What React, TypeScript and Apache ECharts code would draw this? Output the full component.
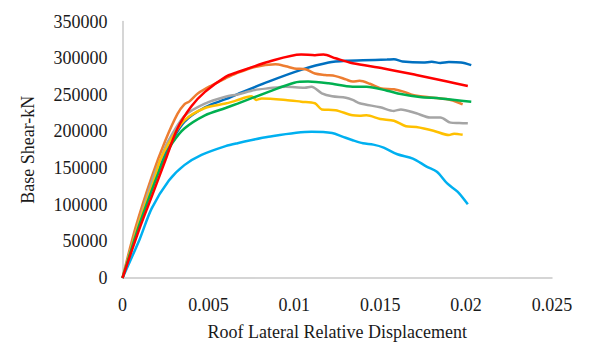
import React, { useEffect, useRef } from "react";
import * as echarts from "echarts";

const xTicks = [0, 0.005, 0.01, 0.015, 0.02, 0.025];
const yTicks = [0, 50000, 100000, 150000, 200000, 250000, 300000, 350000];

const blueData = [[0,0],[0.001,76000],[0.0019,138000],[0.0023,161000],[0.0028,184000],[0.0036,213000],[0.0048,233000],[0.006,244000],[0.0067,251000],[0.0085,268000],[0.0104,284000],[0.012,294000],[0.013,296500],[0.014,297000],[0.0154,298000],[0.0158,298500],[0.0163,295500],[0.0175,294000],[0.018,295000],[0.0185,293500],[0.019,294700],[0.0197,294000],[0.0203,290500]];
const orangeData = [[0,0],[0.00075,68000],[0.0017,138000],[0.0025,188000],[0.0032,224000],[0.0036,237000],[0.0039,241000],[0.0044,252000],[0.0052,263000],[0.006,272500],[0.0066,279000],[0.0077,288000],[0.0089,291500],[0.0095,289000],[0.01,286000],[0.0107,284500],[0.0112,279000],[0.0118,277000],[0.0124,275500],[0.013,271000],[0.0134,268000],[0.0138,269000],[0.0144,265000],[0.015,259000],[0.0158,257500],[0.0164,254000],[0.0169,249700],[0.0181,246000],[0.0191,243000],[0.0198,237000]];
const grayData = [[0,0],[0.001,80000],[0.0018,138000],[0.0022,161000],[0.0026,184000],[0.0036,221000],[0.0048,238000],[0.006,247400],[0.0067,250500],[0.0077,256500],[0.0085,258800],[0.0095,261000],[0.0106,259700],[0.011,261000],[0.0116,252000],[0.0122,248000],[0.013,246000],[0.0134,243000],[0.0138,238400],[0.015,233000],[0.0158,228000],[0.0162,230000],[0.0171,224700],[0.0179,219000],[0.0185,219000],[0.0191,212000],[0.0196,211500],[0.0201,211000]];
const yellowData = [[0,0],[0.001,78000],[0.0019,138000],[0.0022,161000],[0.0027,184000],[0.0036,215000],[0.0048,232000],[0.006,238000],[0.0066,242000],[0.0075,248000],[0.0078,243000],[0.0081,245000],[0.0095,243000],[0.0104,240600],[0.0112,238400],[0.0116,230000],[0.0124,229000],[0.0134,222000],[0.0138,221500],[0.0142,222000],[0.015,217000],[0.0158,214600],[0.0165,207000],[0.0171,206000],[0.0181,201000],[0.019,195000],[0.0193,197000],[0.0198,195500]];
const cyanData = [[0,0],[0.001,53000],[0.0017,95000],[0.0027,133000],[0.0036,154000],[0.0046,168000],[0.006,180000],[0.0067,184000],[0.0085,192800],[0.011,199600],[0.0122,198000],[0.0128,193000],[0.0134,188000],[0.014,183800],[0.0146,182000],[0.0152,178000],[0.016,168800],[0.0169,163000],[0.0177,152000],[0.0183,145000],[0.0189,129000],[0.0195,117800],[0.0201,100500]];
const greenData = [[0,0],[0.001,74000],[0.002,138000],[0.0024,161000],[0.0029,184000],[0.0036,204000],[0.0048,222000],[0.006,232000],[0.0067,238000],[0.0085,254000],[0.01,266500],[0.0108,268000],[0.012,265700],[0.0134,261000],[0.0142,261000],[0.0154,255600],[0.0162,251000],[0.0173,247000],[0.0185,245000],[0.0203,240600]];
const redData = [[0,0],[0.001,68000],[0.0017,111000],[0.0025,161000],[0.0032,204000],[0.004,234000],[0.0048,254000],[0.006,274500],[0.0066,280000],[0.0085,295000],[0.0104,305000],[0.0112,304000],[0.0117,305000],[0.0124,299800],[0.0134,293000],[0.0152,286000],[0.0171,277000],[0.0189,268000],[0.0201,262000]];

const seriesList = [
  { name: "S1", color: "#0070C0", data: blueData },
  { name: "S2", color: "#ED7D31", data: orangeData },
  { name: "S3", color: "#A5A5A5", data: grayData },
  { name: "S4", color: "#FFC000", data: yellowData },
  { name: "S5", color: "#00B0F0", data: cyanData },
  { name: "S6", color: "#00B050", data: greenData },
  { name: "S7", color: "#FF0000", data: redData },
];

const FONT = "Liberation Serif";

export default function App() {
  const ref = useRef<HTMLDivElement>(null);
  useEffect(() => {
    if (!ref.current) return;
    const chart = echarts.init(ref.current, null, { renderer: "svg" });
    chart.setOption({
      animation: false,
      textStyle: { fontFamily: FONT },
      grid: { left: 122.5, right: 40, top: 21.5, bottom: 64, containLabel: false, outerBoundsMode: "none" },
      xAxis: {
        type: "value",
        min: xTicks[0],
        max: xTicks[xTicks.length - 1],
        interval: 0.005,
        name: "Roof Lateral Relative Displacement",
        nameLocation: "middle",
        nameGap: 45,
        nameTextStyle: { fontFamily: FONT, fontSize: 18, color: "#1a1a1a" },
        axisLine: { show: true, lineStyle: { color: "#c8c8c8", width: 1.5 } },
        axisTick: { show: false },
        splitLine: { show: false },
        axisLabel: { fontFamily: FONT, fontSize: 18, color: "#1a1a1a", margin: 18, formatter: (v: number) => String(v) },
      },
      yAxis: {
        type: "value",
        min: yTicks[0],
        max: yTicks[yTicks.length - 1],
        interval: 50000,
        name: "Base Shear-kN",
        nameLocation: "middle",
        nameGap: 86,
        nameTextStyle: { fontFamily: FONT, fontSize: 18, color: "#1a1a1a" },
        axisLine: { show: true, lineStyle: { color: "#c8c8c8", width: 1.5 } },
        axisTick: { show: false },
        splitLine: { show: false },
        axisLabel: { fontFamily: FONT, fontSize: 18, color: "#1a1a1a", margin: 15, formatter: (v: number) => String(v) },
      },
      series: seriesList.map((s) => ({
        type: "line",
        name: s.name,
        data: s.data,
        showSymbol: false,
        symbol: "none",
        smooth: 0.3,
        lineStyle: { color: s.color, width: 2.5 },
        itemStyle: { color: s.color },
      })),
    });
    return () => chart.dispose();
  }, []);
  return <div ref={ref} style={{ width: 592, height: 342, position: "absolute", left: 0, top: 0 }} />;
}
